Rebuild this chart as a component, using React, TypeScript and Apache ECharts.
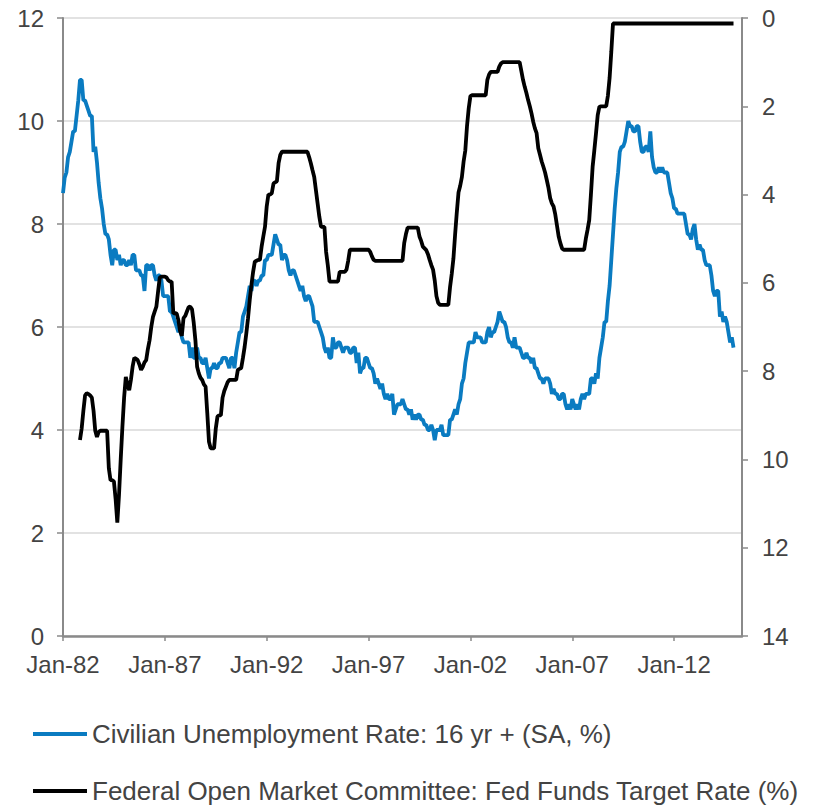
import { useEffect, useRef } from "react";
import * as echarts from "echarts";

// Month labels for the category axis: Jan-82 through May-15
const MONTH_NAMES = ["Jan", "Feb", "Mar", "Apr", "May", "Jun", "Jul", "Aug", "Sep", "Oct", "Nov", "Dec"];
const FIRST_YEAR = 1982;
const LAST_YEAR = 2015;
const LAST_MONTH_OF_LAST_YEAR = 5; // axis runs to May-15

const months: string[] = [];
for (let y = FIRST_YEAR; y <= LAST_YEAR; y++) {
  const lastM = y === LAST_YEAR ? LAST_MONTH_OF_LAST_YEAR : 12;
  for (let m = 0; m < lastM; m++) {
    months.push(`${MONTH_NAMES[m]}-${String(y % 100).padStart(2, "0")}`);
  }
}

// Civilian unemployment rate, 16 yr +, SA, % (monthly, Jan-82 .. Dec-14)
const unemploymentRate = [
  8.6, 8.9, 9.0, 9.3, 9.4, 9.6, 9.8, 9.8, 10.1, 10.4, 10.8, 10.8, // 1982
  10.4, 10.4, 10.3, 10.2, 10.1, 10.1, 9.4, 9.5, 9.2, 8.8, 8.5, 8.3, // 1983
  8.0, 7.8, 7.8, 7.7, 7.4, 7.2, 7.5, 7.5, 7.3, 7.4, 7.2, 7.3, // 1984
  7.3, 7.2, 7.2, 7.3, 7.2, 7.4, 7.4, 7.1, 7.1, 7.1, 7.0, 7.0, // 1985
  6.7, 7.2, 7.2, 7.1, 7.2, 7.2, 7.0, 6.9, 7.0, 7.0, 6.9, 6.6, // 1986
  6.6, 6.6, 6.6, 6.3, 6.3, 6.2, 6.1, 6.0, 5.9, 6.0, 5.8, 5.7, // 1987
  5.7, 5.7, 5.7, 5.4, 5.6, 5.4, 5.4, 5.6, 5.4, 5.4, 5.3, 5.3, // 1988
  5.4, 5.2, 5.0, 5.2, 5.2, 5.3, 5.2, 5.2, 5.3, 5.3, 5.4, 5.4, // 1989
  5.4, 5.3, 5.2, 5.4, 5.4, 5.2, 5.5, 5.7, 5.9, 5.9, 6.2, 6.3, // 1990
  6.4, 6.6, 6.8, 6.7, 6.9, 6.9, 6.8, 6.9, 6.9, 7.0, 7.0, 7.3, // 1991
  7.3, 7.4, 7.4, 7.4, 7.6, 7.8, 7.7, 7.6, 7.6, 7.3, 7.4, 7.4, // 1992
  7.3, 7.1, 7.0, 7.1, 7.1, 7.0, 6.9, 6.8, 6.7, 6.8, 6.6, 6.5, // 1993
  6.6, 6.6, 6.5, 6.4, 6.1, 6.1, 6.1, 6.0, 5.9, 5.8, 5.6, 5.5, // 1994
  5.6, 5.4, 5.4, 5.8, 5.6, 5.6, 5.7, 5.7, 5.6, 5.5, 5.6, 5.6, // 1995
  5.6, 5.5, 5.5, 5.6, 5.6, 5.3, 5.5, 5.1, 5.2, 5.2, 5.4, 5.4, // 1996
  5.3, 5.2, 5.2, 5.1, 4.9, 5.0, 4.9, 4.8, 4.9, 4.7, 4.6, 4.7, // 1997
  4.6, 4.6, 4.7, 4.3, 4.4, 4.5, 4.5, 4.5, 4.6, 4.5, 4.4, 4.4, // 1998
  4.3, 4.4, 4.2, 4.3, 4.2, 4.3, 4.3, 4.2, 4.2, 4.1, 4.1, 4.0, // 1999
  4.0, 4.1, 4.0, 3.8, 4.0, 4.0, 4.0, 4.1, 3.9, 3.9, 3.9, 3.9, // 2000
  4.2, 4.2, 4.3, 4.4, 4.3, 4.5, 4.6, 4.9, 5.0, 5.3, 5.5, 5.7, // 2001
  5.7, 5.7, 5.7, 5.9, 5.8, 5.8, 5.8, 5.7, 5.7, 5.7, 5.9, 6.0, // 2002
  5.8, 5.9, 5.9, 6.0, 6.1, 6.3, 6.2, 6.1, 6.1, 6.0, 5.8, 5.7, // 2003
  5.7, 5.6, 5.8, 5.6, 5.6, 5.6, 5.5, 5.4, 5.4, 5.5, 5.4, 5.4, // 2004
  5.3, 5.4, 5.2, 5.2, 5.1, 5.0, 5.0, 4.9, 5.0, 5.0, 5.0, 4.9, // 2005
  4.7, 4.8, 4.7, 4.7, 4.6, 4.6, 4.7, 4.7, 4.5, 4.4, 4.5, 4.4, // 2006
  4.6, 4.5, 4.4, 4.5, 4.4, 4.6, 4.7, 4.6, 4.7, 4.7, 4.7, 5.0, // 2007
  5.0, 4.9, 5.1, 5.0, 5.4, 5.6, 5.8, 6.1, 6.1, 6.5, 6.8, 7.3, // 2008
  7.8, 8.3, 8.7, 9.0, 9.4, 9.5, 9.5, 9.6, 9.8, 10.0, 9.9, 9.9, // 2009
  9.8, 9.8, 9.9, 9.9, 9.6, 9.4, 9.4, 9.5, 9.5, 9.4, 9.8, 9.3, // 2010
  9.1, 9.0, 9.0, 9.1, 9.0, 9.1, 9.0, 9.0, 9.0, 8.8, 8.6, 8.5, // 2011
  8.3, 8.3, 8.2, 8.2, 8.2, 8.2, 8.2, 8.0, 7.8, 7.8, 7.7, 7.9, // 2012
  8.0, 7.7, 7.5, 7.6, 7.5, 7.5, 7.3, 7.2, 7.2, 7.2, 7.0, 6.7, // 2013
  6.6, 6.7, 6.7, 6.2, 6.3, 6.1, 6.2, 6.1, 5.9, 5.7, 5.8, 5.6, // 2014
];

// FOMC fed funds target rate, % (monthly, series begins Nov-82)
const fedFundsTarget: (number | null)[] = [
  null, null, null, null, null, null, null, null, null, null, 9.56, 9.3, // 1982
  8.9, 8.55, 8.5, 8.52, 8.55, 8.6, 8.9, 9.35, 9.49, 9.38, 9.35, 9.35, // 1983
  9.35, 9.35, 9.35, 10.2, 10.47, 10.47, 10.5, 10.9, 11.43, 10.8, 10.0, 9.26, // 1984
  8.6, 8.13, 8.3, 8.43, 8.2, 7.9, 7.7, 7.72, 7.75, 7.85, 7.97, 7.9, // 1985
  7.8, 7.75, 7.5, 7.3, 7.0, 6.77, 6.65, 6.54, 6.2, 5.88, 5.86, 5.86, // 1986
  5.86, 5.88, 5.94, 5.97, 5.97, 6.7, 6.68, 6.7, 6.85, 7.1, 7.2, 6.8, // 1987
  6.75, 6.65, 6.55, 6.54, 6.6, 6.9, 7.3, 7.9, 8.05, 8.15, 8.2, 8.3, // 1988
  8.35, 8.95, 9.6, 9.75, 9.75, 9.75, 9.3, 9.03, 9.0, 9.0, 8.6, 8.45, // 1989
  8.35, 8.25, 8.2, 8.2, 8.2, 8.2, 8.2, 7.97, 7.95, 7.93, 7.7, 7.45, // 1990
  7.14, 6.8, 6.39, 6.05, 5.75, 5.52, 5.5, 5.48, 5.48, 5.18, 4.95, 4.73, // 1991
  4.27, 4.0, 4.0, 3.97, 3.75, 3.72, 3.7, 3.29, 3.1, 3.03, 3.03, 3.03, // 1992
  3.03, 3.03, 3.03, 3.03, 3.03, 3.03, 3.03, 3.03, 3.03, 3.03, 3.03, 3.03, // 1993
  3.03, 3.15, 3.29, 3.45, 3.6, 3.9, 4.2, 4.5, 4.73, 4.73, 4.73, 5.3, // 1994
  5.6, 5.97, 5.97, 5.97, 5.97, 5.97, 5.97, 5.75, 5.75, 5.75, 5.75, 5.7, // 1995
  5.5, 5.25, 5.25, 5.25, 5.25, 5.25, 5.25, 5.25, 5.25, 5.25, 5.25, 5.25, // 1996
  5.25, 5.3, 5.4, 5.48, 5.5, 5.5, 5.5, 5.5, 5.5, 5.5, 5.5, 5.5, // 1997
  5.5, 5.5, 5.5, 5.5, 5.5, 5.5, 5.5, 5.5, 5.5, 5.1, 4.9, 4.75, // 1998
  4.75, 4.75, 4.75, 4.75, 4.75, 4.75, 4.95, 5.05, 5.18, 5.22, 5.26, 5.35, // 1999
  5.48, 5.6, 5.7, 5.95, 6.3, 6.45, 6.5, 6.5, 6.5, 6.5, 6.5, 6.5, // 2000
  6.1, 5.8, 5.45, 4.9, 4.4, 3.95, 3.8, 3.6, 3.25, 3.0, 2.45, 2.05, // 2001
  1.77, 1.75, 1.75, 1.75, 1.75, 1.75, 1.75, 1.75, 1.75, 1.75, 1.4, 1.28, // 2002
  1.22, 1.22, 1.22, 1.22, 1.22, 1.1, 1.03, 1.0, 1.0, 1.0, 1.0, 1.0, // 2003
  1.0, 1.0, 1.0, 1.0, 1.0, 1.0, 1.2, 1.4, 1.56, 1.7, 1.86, 2.0, // 2004
  2.16, 2.35, 2.5, 2.61, 2.95, 3.1, 3.25, 3.37, 3.5, 3.67, 3.85, 4.08, // 2005
  4.2, 4.27, 4.45, 4.7, 4.95, 5.1, 5.22, 5.25, 5.25, 5.25, 5.25, 5.25, // 2006
  5.25, 5.25, 5.25, 5.25, 5.25, 5.25, 5.25, 5.25, 5.0, 4.8, 4.58, 4.0, // 2007
  3.37, 3.0, 2.61, 2.2, 2.01, 2.0, 2.0, 2.0, 2.0, 1.76, 1.36, 0.77, // 2008
  0.125, 0.125, 0.125, 0.125, 0.125, 0.125, 0.125, 0.125, 0.125, 0.125, 0.125, 0.125, // 2009
  0.125, 0.125, 0.125, 0.125, 0.125, 0.125, 0.125, 0.125, 0.125, 0.125, 0.125, 0.125, // 2010
  0.125, 0.125, 0.125, 0.125, 0.125, 0.125, 0.125, 0.125, 0.125, 0.125, 0.125, 0.125, // 2011
  0.125, 0.125, 0.125, 0.125, 0.125, 0.125, 0.125, 0.125, 0.125, 0.125, 0.125, 0.125, // 2012
  0.125, 0.125, 0.125, 0.125, 0.125, 0.125, 0.125, 0.125, 0.125, 0.125, 0.125, 0.125, // 2013
  0.125, 0.125, 0.125, 0.125, 0.125, 0.125, 0.125, 0.125, 0.125, 0.125, 0.125, 0.125, // 2014
];

const SERIES_NAMES = [
  "Civilian Unemployment Rate: 16 yr + (SA, %)",
  "Federal Open Market Committee: Fed Funds Target Rate (%)",
];

const FONT = "'Liberation Sans', Arial, sans-serif";
const TEXT_COLOR = "#434343";
const AXIS_COLOR = "#8a8a8a";
const GRID_COLOR = "#d9d9d9";
const BLUE = "#0a7bc1";

// One legend row per series, stacked under the plot
const legendRow = (name: string, top: number) => ({
  orient: "horizontal",
  left: 33,
  top,
  padding: 0,
  icon: "rect",
  itemWidth: 54,
  itemHeight: 4,
  data: [name],
  textStyle: { fontSize: 26, color: TEXT_COLOR, fontFamily: FONT },
});

export default function App() {
  const ref = useRef<HTMLDivElement>(null);

  useEffect(() => {
    document.body.style.margin = "0";
    const chart = echarts.init(ref.current!, undefined, { renderer: "svg" });
    chart.setOption({
      animation: false,
      backgroundColor: "#ffffff",
      textStyle: { fontFamily: FONT },
      grid: { left: 63, right: 78, top: 18, bottom: 172, containLabel: false },
      legend: [legendRow(SERIES_NAMES[0], 721), legendRow(SERIES_NAMES[1], 778)],
      xAxis: {
        type: "category",
        data: months,
        boundaryGap: false,
        axisLine: { show: true, lineStyle: { color: AXIS_COLOR, width: 2.5 } },
        axisTick: { show: true, interval: 59, length: 5, lineStyle: { color: AXIS_COLOR, width: 1.5 } },
        axisLabel: { interval: 59, fontSize: 24, color: TEXT_COLOR, margin: 16, fontFamily: FONT },
        splitLine: { show: false },
      },
      yAxis: [
        {
          type: "value",
          min: 0,
          max: 12,
          interval: 2,
          position: "left",
          axisLine: { show: true, lineStyle: { color: AXIS_COLOR, width: 2 } },
          axisTick: { show: true, length: 6, lineStyle: { color: AXIS_COLOR, width: 1.5 } },
          axisLabel: { fontSize: 24, color: TEXT_COLOR, margin: 19, padding: [5, 0, 0, 0], fontFamily: FONT },
          splitLine: { show: true, lineStyle: { color: GRID_COLOR, width: 1.5 } },
        },
        {
          type: "value",
          min: 0,
          max: 14,
          interval: 2,
          inverse: true,
          position: "right",
          axisLine: { show: true, lineStyle: { color: AXIS_COLOR, width: 2 } },
          axisTick: { show: true, length: 6, lineStyle: { color: AXIS_COLOR, width: 1.5 } },
          axisLabel: { fontSize: 24, color: TEXT_COLOR, margin: 20, padding: [5, 0, 0, 0], fontFamily: FONT },
          splitLine: { show: false },
        },
      ],
      series: [
        {
          name: SERIES_NAMES[0],
          type: "line",
          yAxisIndex: 0,
          data: unemploymentRate,
          showSymbol: false,
          symbol: "none",
          lineStyle: { color: BLUE, width: 3.8 },
          itemStyle: { color: BLUE },
          z: 2,
        },
        {
          name: SERIES_NAMES[1],
          type: "line",
          yAxisIndex: 1,
          data: fedFundsTarget,
          showSymbol: false,
          symbol: "none",
          lineStyle: { color: "#000000", width: 3.8 },
          itemStyle: { color: "#000000" },
          z: 3,
        },
      ],
    });
    return () => chart.dispose();
  }, []);

  return <div ref={ref} style={{ width: 820, height: 808 }} />;
}
